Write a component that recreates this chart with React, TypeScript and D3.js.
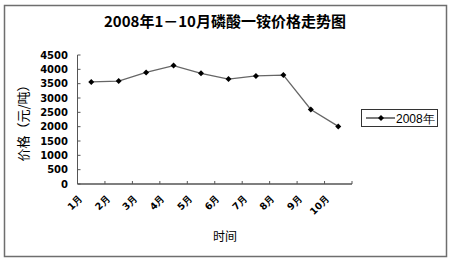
import React from "react";
import * as d3 from "d3";

const categories = ["1月", "2月", "3月", "4月", "5月", "6月", "7月", "8月", "9月", "10月"];
const values2008 = [3560, 3590, 3890, 4130, 3860, 3660, 3770, 3800, 2600, 2010];
const yTicks = [0, 500, 1000, 1500, 2000, 2500, 3000, 3500, 4000, 4500];
const seriesName = "2008年";
const title = "2008年1－10月磷酸一铵价格走势图";
const xTitle = "时间";
const yTitle = "价格（元/吨）";

export default function App() {
  const W = 450, H = 261;
  const left = 77.5, right = 352, top = 55, bottom = 184;
  const x = d3.scaleBand().domain(categories).range([left, right]).padding(0);
  const y = d3.scaleLinear().domain([0, 4500]).range([bottom, top]);
  const line = d3.line<number>()
    .x((_, i) => (x(categories[i]) as number) + x.bandwidth() / 2)
    .y((d) => y(d));
  const numFont = "'DejaVu Sans', sans-serif";
  const cjk = "'Noto Sans CJK SC', sans-serif";
  const diamond = (cx: number, cy: number, r = 3) =>
    `M${cx},${cy - r}L${cx + r},${cy}L${cx},${cy + r}L${cx - r},${cy}Z`;
  const boundaries = d3.range(categories.length + 1).map((i) => left + i * x.bandwidth());
  return (
    <svg width={W} height={H} style={{ position: "absolute", left: 0, top: 0, background: "#fff" }}>
      <rect x={4.5} y={5.5} width={442} height={251} fill="#fff" stroke="#6e6e6e" strokeWidth={1.5} />
      <text x={225} y={27} textAnchor="middle" fontFamily={cjk} fontWeight="bold" fontSize={15} fill="#000">
        {title}
      </text>
      {/* y axis */}
      <line x1={left} x2={left} y1={top} y2={bottom} stroke="#555" strokeWidth={1} />
      {yTicks.map((t) => (
        <g key={t}>
          <line x1={left} x2={left + 3} y1={y(t)} y2={y(t)} stroke="#555" />
          <text x={68} y={y(t) + 3.5} textAnchor="end" fontFamily={numFont} fontWeight="bold" fontSize={10} fill="#000">
            {t}
          </text>
        </g>
      ))}
      {/* x axis */}
      <line x1={left} x2={right} y1={bottom} y2={bottom} stroke="#555" strokeWidth={1.5} />
      {boundaries.slice(1).map((b, i) => (
        <line key={i} x1={b} x2={b} y1={bottom} y2={bottom - 3} stroke="#555" />
      ))}
      {categories.map((c) => {
        const cx = (x(c) as number) + x.bandwidth() / 2;
        return (
          <text key={c} transform={`translate(${cx - 8},${199}) rotate(-45)`} textAnchor="end"
            fontFamily={numFont} fontWeight="bold" fontSize={9.5} fill="#000">
            {c}
          </text>
        );
      })}
      <text x={225} y={241} textAnchor="middle" fontFamily={cjk} fontSize={12} fill="#000">{xTitle}</text>
      <text transform={`translate(28,120) rotate(-90)`} textAnchor="middle" fontFamily={cjk} fontSize={13} fill="#000">
        {yTitle}
      </text>
      {/* series */}
      <path d={line(values2008) || ""} fill="none" stroke="#666" strokeWidth={1.3} />
      {values2008.map((v, i) => {
        const cx = (x(categories[i]) as number) + x.bandwidth() / 2;
        return <path key={i} d={diamond(cx, y(v))} fill="#000" />;
      })}
      {/* legend */}
      <rect x={361.5} y={109.5} width={76} height={17} fill="#fff" stroke="#333" strokeWidth={1} />
      <line x1={366} x2={395} y1={118} y2={118} stroke="#222" strokeWidth={1.2} />
      <path d={diamond(381, 118)} fill="#000" />
      <text x={396} y={123} fontFamily="'Liberation Sans', sans-serif" fontSize={12} fill="#000">{seriesName}</text>
    </svg>
  );
}
